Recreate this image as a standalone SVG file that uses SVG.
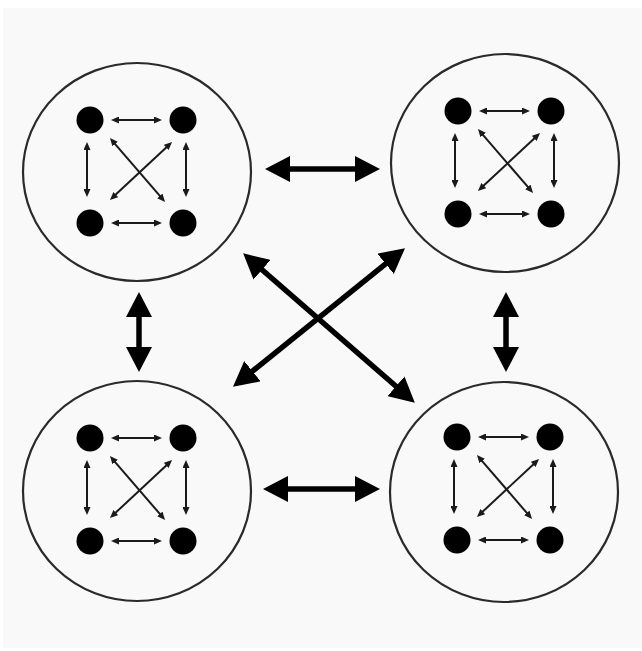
<svg xmlns="http://www.w3.org/2000/svg" width="642" height="651" viewBox="0 0 642 651">
<style>
.ring{fill:none;stroke:#2a2a2a;stroke-width:2.2}
.dot{fill:#000}
.thin{stroke:#1a1a1a;stroke-width:2;fill:none;marker-start:url(#sm);marker-end:url(#sm)}
.thick{stroke:#000;stroke-width:5.5;fill:none;marker-start:url(#bg);marker-end:url(#bg)}
</style>
<defs>
<marker id="sm" viewBox="0 0 8 7" markerWidth="8" markerHeight="7" refX="3" refY="3.5" orient="auto-start-reverse" markerUnits="userSpaceOnUse">
<path d="M0,0 L8,3.5 L0,7 Z" fill="#1a1a1a"/>
</marker>
<marker id="bg" viewBox="0 0 25 26" markerWidth="25" markerHeight="26" refX="8" refY="13" orient="auto-start-reverse" markerUnits="userSpaceOnUse">
<path d="M0,0 L25,13 L0,26 Z" fill="#000"/>
</marker>
</defs>
<rect x="0" y="0" width="642" height="651" fill="#ffffff"/>
<rect x="3" y="8" width="639" height="640" fill="#f8f9f8"/>

<g id="cluster1" transform="translate(90,120)">
<ellipse class="ring" cx="47" cy="52" rx="114" ry="109"/>
<g id="c1n1"><circle class="dot" cx="0" cy="0" r="13.5"/></g>
<g id="c1n2"><circle class="dot" cx="93" cy="0" r="13.5"/></g>
<g id="c1n3"><circle class="dot" cx="0" cy="103" r="13.5"/></g>
<g id="c1n4"><circle class="dot" cx="93" cy="103" r="13.5"/></g>
<g id="c1links">
<line class="thin" x1="26" y1="0" x2="67" y2="0"/>
<line class="thin" x1="26" y1="103" x2="67" y2="103"/>
<line class="thin" x1="-3" y1="27" x2="-3" y2="72"/>
<line class="thin" x1="96" y1="27" x2="96" y2="72"/>
<line class="thin" x1="23.2" y1="21.8" x2="71.8" y2="78.2"/>
<line class="thin" x1="78.4" y1="25.4" x2="23.6" y2="76.6"/>
</g>
</g>

<g id="cluster2" transform="translate(458,111)">
<ellipse class="ring" cx="47" cy="52" rx="114" ry="109"/>
<g id="c2n1"><circle class="dot" cx="0" cy="0" r="13.5"/></g>
<g id="c2n2"><circle class="dot" cx="93" cy="0" r="13.5"/></g>
<g id="c2n3"><circle class="dot" cx="0" cy="103" r="13.5"/></g>
<g id="c2n4"><circle class="dot" cx="93" cy="103" r="13.5"/></g>
<g id="c2links">
<line class="thin" x1="26" y1="0" x2="67" y2="0"/>
<line class="thin" x1="26" y1="103" x2="67" y2="103"/>
<line class="thin" x1="-3" y1="27" x2="-3" y2="72"/>
<line class="thin" x1="96" y1="27" x2="96" y2="72"/>
<line class="thin" x1="23.2" y1="21.8" x2="71.8" y2="78.2"/>
<line class="thin" x1="78.4" y1="25.4" x2="23.6" y2="76.6"/>
</g>
</g>

<g id="cluster3" transform="translate(90,438)">
<ellipse class="ring" cx="47" cy="53" rx="114" ry="110"/>
<g id="c3n1"><circle class="dot" cx="0" cy="0" r="13.5"/></g>
<g id="c3n2"><circle class="dot" cx="93" cy="0" r="13.5"/></g>
<g id="c3n3"><circle class="dot" cx="0" cy="103" r="13.5"/></g>
<g id="c3n4"><circle class="dot" cx="93" cy="103" r="13.5"/></g>
<g id="c3links">
<line class="thin" x1="26" y1="0" x2="67" y2="0"/>
<line class="thin" x1="26" y1="103" x2="67" y2="103"/>
<line class="thin" x1="-3" y1="27" x2="-3" y2="72"/>
<line class="thin" x1="96" y1="27" x2="96" y2="72"/>
<line class="thin" x1="23.2" y1="21.8" x2="71.8" y2="78.2"/>
<line class="thin" x1="78.4" y1="25.4" x2="23.6" y2="76.6"/>
</g>
</g>

<g id="cluster4" transform="translate(457,437)">
<ellipse class="ring" cx="47" cy="55" rx="114" ry="110"/>
<g id="c4n1"><circle class="dot" cx="0" cy="0" r="13.5"/></g>
<g id="c4n2"><circle class="dot" cx="93" cy="0" r="13.5"/></g>
<g id="c4n3"><circle class="dot" cx="0" cy="103" r="13.5"/></g>
<g id="c4n4"><circle class="dot" cx="93" cy="103" r="13.5"/></g>
<g id="c4links">
<line class="thin" x1="26" y1="0" x2="67" y2="0"/>
<line class="thin" x1="26" y1="103" x2="67" y2="103"/>
<line class="thin" x1="-3" y1="27" x2="-3" y2="72"/>
<line class="thin" x1="96" y1="27" x2="96" y2="72"/>
<line class="thin" x1="23.2" y1="21.8" x2="71.8" y2="78.2"/>
<line class="thin" x1="78.4" y1="25.4" x2="23.6" y2="76.6"/>
</g>
</g>

<g id="connectors">
<line class="thick" x1="282" y1="169" x2="363" y2="169"/>
<line class="thick" x1="280" y1="489" x2="363" y2="489"/>
<line class="thick" x1="139" y1="309" x2="139" y2="355"/>
<line class="thick" x1="506" y1="309" x2="506" y2="355"/>
<line class="thick" x1="256" y1="264.5" x2="402" y2="391.5"/>
<line class="thick" x1="391.8" y1="258.8" x2="246.2" y2="376.2"/>
</g>
</svg>
